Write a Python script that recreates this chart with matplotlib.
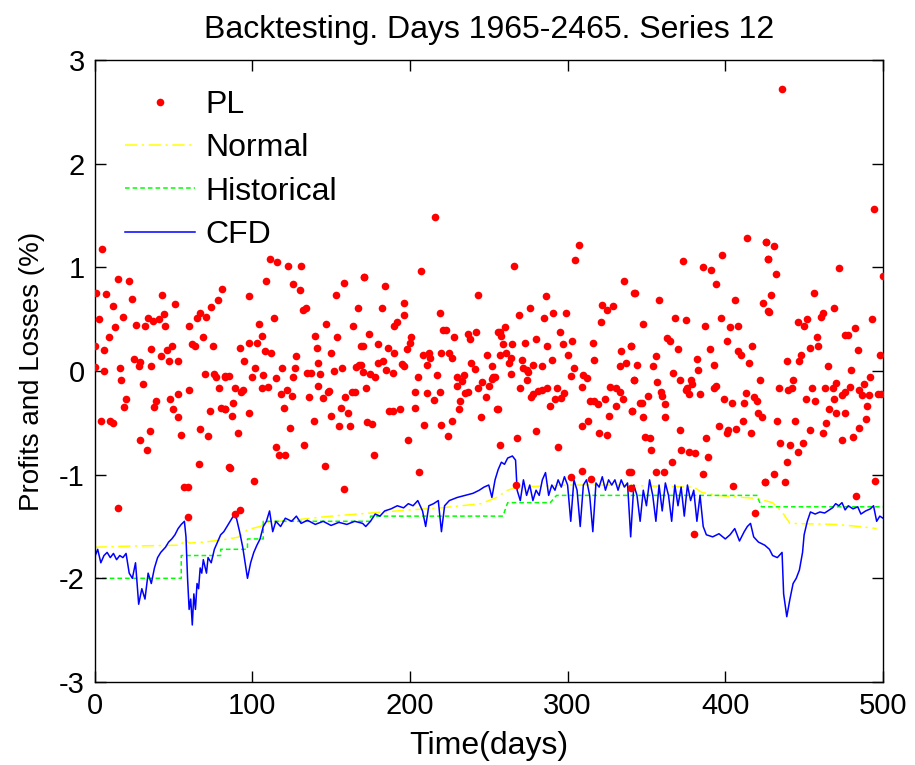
import matplotlib
matplotlib.use('Agg')

import numpy as np
import matplotlib.pyplot as plt

# PL points (day, value), by stretch of days
pl_a = [(5,1.18),(15,0.89),(22,0.87),(1,0.75),(7,0.74),(43,0.73),(81,0.79),(12,0.63),(24,0.69),
        (51,0.65),(78,0.68),(74,0.62),(3,0.5),(18,0.52),(37,0.48),(44,0.55),(67,0.56),(71,0.52),
        (65,0.51),(13,0.42),(26,0.44),(32,0.43),(34,0.51),(41,0.5),(45,0.43),(60,0.43),(9,0.33),
        (69,0.33),(0,0.24),(6,0.2),(36,0.21),(46,0.2),(49,0.24),(62,0.26),(64,0.24),(75,0.24),
        (25,0.12),(29,0.09),(28,0.05),(42,0.14),(47,0.1),(53,0.1),(0,0.04),(6,0.0),(16,0.03),
        (36,0.05),(17,-0.09),(31,-0.13),(70,-0.03),(76,-0.03),(77,-0.06),(83,-0.05),(79,-0.16),
        (20,-0.27),(19,-0.35),(39,-0.29),(38,-0.35),(48,-0.27),(53,-0.22),(60,-0.18),(50,-0.37),
        (53,-0.44),(73,-0.39),(80,-0.36),(83,-0.37),(4,-0.48),(10,-0.48),(12,-0.5),(35,-0.58),
        (29,-0.67),(33,-0.76),(55,-0.62),(67,-0.56),(72,-0.63),(57,-1.12),(59,-1.12),(66,-0.9),
        (85,-0.93),(15,-1.32),(59,-1.41)]

pl_b = [(111,1.08),(116,1.05),(123,1.01),(131,1.01),(109,0.87),(158,0.85),(171,0.91),(126,0.84),
        (130,0.78),(98,0.72),(153,0.73),(132,0.59),(134,0.61),(114,0.51),(167,0.61),(104,0.45),
        (147,0.45),(106,0.34),(140,0.34),(164,0.43),(154,0.33),(92,0.22),(98,0.27),(103,0.27),
        (108,0.19),(112,0.17),(141,0.22),(150,0.17),(169,0.24),(128,0.14),(95,0.1),(102,0.03),
        (119,0.03),(127,0.03),(135,-0.02),(137,-0.02),(142,0.08),(143,-0.03),(152,0.0),(157,0.03),
        (166,0.04),(168,0.06),(85,-0.05),(100,-0.06),(107,-0.04),(115,-0.07),(126,-0.06),(83,-0.06),
        (106,-0.16),(110,-0.15),(89,-0.16),(94,-0.18),(93,-0.2),(118,-0.22),(122,-0.18),(125,-0.24),
        (136,-0.25),(142,-0.14),(145,-0.26),(148,-0.2),(149,-0.19),(159,-0.25),(163,-0.2),(165,-0.2),
        (88,-0.31),(120,-0.36),(156,-0.36),(161,-0.41),(83,-0.37),(87,-0.43),(98,-0.41),(150,-0.43),
        (139,-0.48),(155,-0.53),(162,-0.53),(124,-0.55),(91,-0.6),(115,-0.73),(133,-0.71),(117,-0.81),
        (121,-0.81),(86,-0.94),(146,-0.92),(101,-1.06),(158,-1.14),(92,-1.34),(89,-1.38)]

pl_c = [(216,1.49),(207,0.96),(171,0.91),(184,0.82),(196,0.66),(243,0.73),(182,0.61),(196,0.54),
        (219,0.56),(192,0.47),(190,0.43),(221,0.4),(223,0.4),(237,0.36),(242,0.38),(238,0.31),
        (256,0.38),(174,0.36),(228,0.33),(201,0.33),(200,0.27),(198,0.21),(170,0.24),(180,0.26),
        (186,0.22),(190,0.17),(208,0.15),(212,0.17),(213,0.13),(220,0.17),(225,0.17),(227,0.13),
        (211,0.06),(249,0.15),(257,0.15),(169,0.06),(180,0.08),(183,0.1),(195,0.07),(196,0.05),
        (239,0.08),(241,0.02),(252,0.05),(170,-0.01),(175,-0.03),(178,-0.06),(185,0.01),(189,-0.02),
        (205,-0.06),(217,-0.04),(230,-0.06),(234,-0.04),(233,-0.1),(246,-0.11),(250,-0.14),(253,-0.06),
        (172,-0.16),(203,-0.2),(219,-0.2),(211,-0.21),(215,-0.28),(230,-0.14),(232,-0.29),(235,-0.21),
        (237,-0.2),(243,-0.16),(248,-0.25),(252,-0.08),(187,-0.39),(189,-0.39),(194,-0.37),(203,-0.36),
        (231,-0.37),(255,-0.37),(245,-0.44),(173,-0.49),(176,-0.51),(227,-0.48),(209,-0.52),(220,-0.52),
        (199,-0.67),(224,-0.63),(177,-0.81),(206,-0.97)]

pl_d = [(307,1.22),(305,1.07),(266,1.01),(336,0.87),(342,0.75),(286,0.72),(322,0.64),(325,0.59),
        (329,0.63),(276,0.61),(269,0.54),(285,0.51),(291,0.56),(299,0.56),(321,0.47),(260,0.42),
        (257,0.38),(258,0.34),(295,0.38),(280,0.31),(259,0.26),(265,0.26),(273,0.27),(287,0.24),
        (297,0.26),(303,0.29),(316,0.27),(340,0.24),(261,0.17),(264,0.13),(271,0.11),(290,0.11),
        (300,0.15),(317,0.11),(334,0.19),(263,0.08),(278,0.06),(284,0.05),(333,0.05),(337,0.08),
        (304,0.03),(264,-0.03),(254,-0.06),(272,0.03),(274,0.01),(275,-0.01),(302,-0.05),(310,-0.04),
        (312,-0.07),(342,-0.09),(309,-0.15),(327,-0.15),(331,-0.16),(274,-0.09),(270,-0.16),(281,-0.19),
        (278,-0.22),(284,-0.18),(287,-0.16),(293,-0.16),(277,-0.25),(292,-0.27),(296,-0.26),(298,-0.21),
        (289,-0.34),(314,-0.29),(317,-0.29),(319,-0.32),(324,-0.27),(333,-0.2),(335,-0.27),(331,-0.34),
        (256,-0.37),(341,-0.39),(326,-0.43),(313,-0.48),(309,-0.53),(280,-0.58),(320,-0.6),(325,-0.62),
        (268,-0.65),(257,-0.71),(294,-0.73),(309,-0.96),(339,-0.97),(315,-1.04),(302,-1.02),(267,-1.1),
        (340,-1.13)]

pl_e = [(414,1.28),(426,1.24),(427,1.08),(398,1.12),(373,1.06),(386,1.0),(391,0.97),(394,0.84),
        (343,0.75),(358,0.68),(406,0.68),(424,0.66),(427,0.58),(348,0.45),(368,0.51),(375,0.49),
        (387,0.43),(397,0.51),(403,0.42),(408,0.43),(363,0.32),(365,0.29),(370,0.21),(390,0.21),
        (401,0.29),(417,0.24),(340,0.24),(356,0.14),(354,0.05),(382,0.12),(383,0.01),(393,0.06),
        (408,0.19),(410,0.15),(415,0.08),(344,0.06),(342,-0.09),(357,-0.11),(367,-0.02),(371,-0.09),
        (378,-0.09),(379,-0.13),(376,-0.16),(375,-0.18),(377,-0.22),(384,-0.22),(393,-0.16),(394,-0.14),
        (359,-0.2),(360,-0.24),(362,-0.32),(351,-0.24),(346,-0.31),(347,-0.31),(399,-0.27),(404,-0.31),
        (413,-0.21),(412,-0.31),(418,-0.25),(420,-0.29),(422,-0.09),(341,-0.39),(348,-0.44),(362,-0.44),
        (421,-0.41),(423,-0.44),(411,-0.48),(396,-0.53),(401,-0.6),(402,-0.57),(407,-0.56),(416,-0.6),
        (371,-0.57),(388,-0.65),(349,-0.64),(352,-0.65),(353,-0.76),(372,-0.76),(377,-0.78),(381,-0.79),
        (389,-0.83),(366,-0.88),(356,-0.97),(361,-0.97),(386,-0.99),(405,-1.11),(425,-1.07),(419,-1.37),
        (380,-1.57),(340,-0.97)]

pl_f = [(436,2.72),(494,1.56),(472,0.99),(500,0.92),(426,1.24),(431,1.21),(427,1.08),(432,0.94),
        (429,0.73),(428,0.57),(456,0.75),(469,0.61),(462,0.56),(461,0.52),(452,0.5),(450,0.43),
        (446,0.47),(458,0.33),(459,0.24),(454,0.22),(476,0.35),(478,0.35),(482,0.41),(484,0.2),
        (493,0.5),(498,0.15),(439,0.1),(447,0.1),(448,0.15),(465,0.05),(480,0.01),(492,-0.06),
        (443,-0.09),(442,-0.16),(440,-0.18),(434,-0.16),(455,-0.16),(463,-0.16),(468,-0.16),(470,-0.12),
        (474,-0.23),(476,-0.2),(479,-0.15),(485,-0.18),(488,-0.13),(487,-0.23),(491,-0.23),(497,-0.22),
        (499,-0.22),(451,-0.27),(457,-0.29),(469,-0.27),(466,-0.37),(470,-0.41),(476,-0.41),(490,-0.34),
        (489,-0.46),(464,-0.5),(462,-0.6),(454,-0.57),(444,-0.48),(433,-0.48),(485,-0.55),(481,-0.64),
        (474,-0.67),(435,-0.69),(441,-0.71),(446,-0.78),(449,-0.69),(439,-0.88),(431,-0.99),(438,-1.07),
        (495,-1.06),(483,-1.21),(425,-1.07)]

# risk lines
normal_pts = [(0,-1.70),(20,-1.69),(55,-1.68),(57,-1.62),(60,-1.66),(70,-1.65),(85,-1.62),
              (92,-1.6),(97,-1.53),(105,-1.5),(110,-1.46),(125,-1.44),(150,-1.4),(175,-1.37),
              (200,-1.34),(220,-1.32),(245,-1.28),(255,-1.22),(262,-1.15),(268,-1.12),(300,-1.1),
              (330,-1.1),(380,-1.12),(385,-1.17),(395,-1.2),(420,-1.23),(430,-1.27),(436,-1.36),
              (441,-1.47),(470,-1.48),(485,-1.5),(496,-1.52)]

historical_pts = [(0,-2.0),(55,-2.0),(55,-1.78),(80,-1.78),(80,-1.72),(97,-1.72),(97,-1.62),
                  (107,-1.62),(107,-1.45),(175,-1.45),(175,-1.4),(259,-1.4),(262,-1.27),(289,-1.27),
                  (293,-1.2),(420,-1.2),(423,-1.31),(500,-1.31)]

cfd_pts = [(0,-1.8),(2,-1.72),(4,-1.85),(6,-1.78),(8,-1.75),(10,-1.8),(12,-1.76),(14,-1.82),
           (16,-1.78),(18,-1.8),(20,-1.76),(22,-1.95),(24,-2.0),(26,-1.85),(28,-2.25),(30,-2.1),
           (32,-2.2),(34,-1.95),(36,-2.05),(38,-1.9),(40,-1.8),(42,-1.75),(45,-1.7),(47,-1.65),
           (49,-1.62),(51,-1.58),(53,-1.52),(55,-1.48),(57,-1.45),(58,-1.6),(59,-2.0),(60,-2.3),
           (61,-2.2),(62,-2.45),(63,-2.15),(64,-2.3),(65,-2.05),(66,-2.1),(67,-1.9),(68,-1.95),
           (69,-1.82),(71,-1.95),(72,-1.8),(74,-1.85),(76,-1.72),(78,-1.65),(80,-1.58),(82,-1.55),
           (84,-1.5),(86,-1.45),(88,-1.4),(90,-1.42),(92,-1.55),(94,-1.7),(95,-1.8),(97,-2.0),
           (99,-1.85),(101,-1.75),(103,-1.68),(105,-1.62),(107,-1.5),(109,-1.45),(111,-1.35),
           (113,-1.55),(115,-1.45),(118,-1.5),(121,-1.42),(125,-1.45),(128,-1.4),(131,-1.47),
           (135,-1.44),(140,-1.48),(145,-1.45),(150,-1.49),(155,-1.46),(160,-1.48),(165,-1.45),
           (170,-1.47),(172,-1.5),(175,-1.45),(178,-1.38),(181,-1.4),(184,-1.35),(188,-1.33),
           (192,-1.3),(196,-1.32),(199,-1.28),(202,-1.3),(205,-1.25),(208,-1.35),(210,-1.5),
           (212,-1.3),(215,-1.28),(218,-1.25),(220,-1.55),(222,-1.3),(225,-1.25),(230,-1.22),
           (235,-1.2),(240,-1.18),(244,-1.15),(247,-1.12),(250,-1.1),(252,-1.22),(254,-1.05),
           (256,-0.95),(258,-0.88),(260,-0.9),(262,-0.84),(265,-0.82),(267,-0.86),(268,-1.15),
           (270,-1.25),(272,-1.05),(274,-1.2),(276,-1.1),(278,-1.25),(280,-1.15),(282,-1.2),
           (284,-1.05),(286,-0.98),(288,-1.2),(290,-1.1),(292,-1.15),(294,-1.05),(296,-1.12),
           (298,-1.02),(300,-1.1),(302,-1.45),(304,-1.05),(306,-1.15),(308,-1.5),(310,-1.1),
           (312,-1.05),(314,-1.2),(316,-1.55),(318,-1.08),(320,-1.12),(322,-1.02),(324,-1.15),
           (326,-1.05),(328,-1.1),(330,-1.05),(332,-1.15),(334,-1.05),(336,-1.12),(338,-1.08),
           (340,-1.6),(342,-1.1),(344,-1.2),(346,-1.45),(348,-1.15),(350,-1.3),(352,-1.05),
           (354,-1.2),(356,-1.45),(358,-1.1),(360,-1.35),(362,-1.08),(364,-1.2),(366,-1.45),
           (368,-1.1),(370,-1.3),(372,-1.12),(374,-1.4),(376,-1.1),(378,-1.25),(380,-1.15),
           (382,-1.45),(384,-1.2),(386,-1.5),(388,-1.58),(392,-1.6),(396,-1.57),(400,-1.62),
           (403,-1.58),(406,-1.52),(409,-1.64),(412,-1.55),(414,-1.5),(416,-1.47),(418,-1.6),
           (421,-1.65),(425,-1.68),(428,-1.72),(430,-1.78),(433,-1.8),(436,-1.75),(437,-2.15),
           (439,-2.37),(441,-2.2),(443,-2.05),(445,-2.0),(447,-1.92),(449,-1.75),(450,-1.58),
           (452,-1.45),(454,-1.36),(457,-1.38),(460,-1.36),(463,-1.37),(466,-1.34),(468,-1.32),
           (470,-1.28),(472,-1.3),(474,-1.27),(476,-1.34),(478,-1.3),(481,-1.33),(484,-1.31),
           (486,-1.38),(489,-1.35),(492,-1.33),(494,-1.3),(496,-1.45),(498,-1.4),(500,-1.42)]

plt.rcParams['font.family'] = ['Liberation Sans', 'DejaVu Sans']
plt.rcParams['axes.unicode_minus'] = False

fig = plt.figure(figsize=(9.15, 7.65), dpi=100)
ax = fig.add_axes([0.1033, 0.1085, 0.8617, 0.8131])

pl = np.array(pl_a + pl_b + pl_c + pl_d + pl_e + pl_f)
ax.plot(pl[:, 0], pl[:, 1], 'o', color='#ff0000', ms=5.5, mec='none', label='PL', zorder=3)

nrm = np.array(normal_pts)
ax.plot(nrm[:, 0], nrm[:, 1], color='#ffff00', lw=1.1, dashes=(8, 3, 1.5, 3), label='Normal', zorder=1)
his = np.array(historical_pts)
ax.plot(his[:, 0], his[:, 1], color='#00ff00', lw=1.1, dashes=(3, 2), label='Historical', zorder=1)
cfd = np.array(cfd_pts)
ax.plot(cfd[:, 0], cfd[:, 1], color='#0000ff', lw=1.1, label='CFD', zorder=2)

ax.set_xlim(0, 500)
ax.set_ylim(-3, 3)
ax.set_xticks([0, 100, 200, 300, 400, 500])
ax.set_yticks([-3, -2, -1, 0, 1, 2, 3])
ax.tick_params(direction='in', length=8, width=1, top=True, right=True, labelsize=21, pad=7)
for s in ax.spines.values():
    s.set_linewidth(1.0)

ax.set_title('Backtesting. Days 1965-2465. Series 12', fontsize=23, pad=16)
ax.set_xlabel('Time(days)', fontsize=23, labelpad=8)
ax.set_ylabel('Profits and Losses (%)', fontsize=20, labelpad=10)

ax.legend(loc='upper left', bbox_to_anchor=(0.0387, 0.952), frameon=False, fontsize=23,
          handlelength=2.2, handletextpad=0.32, labelspacing=0.42, borderpad=0,
          borderaxespad=0, numpoints=1)

fig.savefig('out.png', dpi=100)
